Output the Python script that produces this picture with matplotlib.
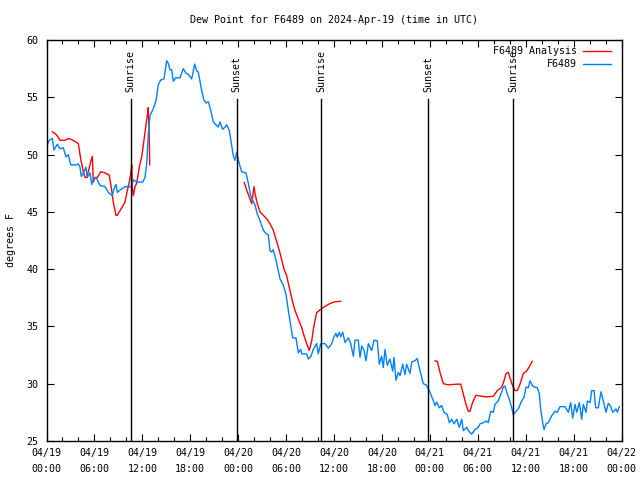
import matplotlib
matplotlib.use("Agg")
import matplotlib.pyplot as plt
from matplotlib.ticker import MultipleLocator

# Hours since 2024-04-19 00:00 UTC
obs_hours = [0.0, 0.35, 0.73, 0.94, 1.35, 1.69, 2.10, 2.44, 2.73, 3.03, 3.78, 3.98, 4.19, 4.36, 4.70, 4.95,
             5.11, 5.45, 5.66, 5.95, 6.29, 6.70, 7.33, 7.74, 8.24, 8.45, 8.70, 8.87, 9.20, 9.83, 10.67, 10.87,
             11.29, 12.05, 12.33, 12.55, 12.75, 12.96, 13.37, 13.71, 14.00, 14.30, 14.71, 15.05, 15.25, 15.46,
             15.68, 15.88, 16.18, 16.72, 17.13, 17.47, 17.76, 18.18, 18.56, 18.81, 19.01, 19.22, 19.43, 19.72,
             19.97, 20.26, 20.56, 20.89, 21.22, 21.51, 21.73, 22.06, 22.35, 22.56, 22.89, 23.19, 23.39, 23.60,
             23.82, 24.14, 24.44, 24.98, 25.27, 25.57, 25.82, 26.11, 26.40, 26.73, 27.15, 27.49, 27.77, 27.99,
             28.20, 28.40, 28.83, 29.24, 29.65, 29.99, 30.28, 30.49, 30.83, 31.24, 31.53, 31.83, 31.96, 32.58,
             32.78, 33.12, 33.41, 33.83, 34.03, 34.33, 34.87, 35.29, 35.71, 36.00, 36.25, 36.41, 36.66, 36.84,
             37.09, 37.38, 37.79, 38.09, 38.42, 38.63, 39.04, 39.26, 39.47, 39.76, 40.01, 40.30, 40.72, 41.01,
             41.42, 41.67, 41.97, 42.17, 42.39, 42.67, 43.01, 43.35, 43.51, 43.76, 44.05, 44.27, 44.60, 44.89,
             45.10, 45.52, 45.73, 46.14, 46.43, 46.68, 47.18, 47.52, 47.93, 48.36, 48.65, 48.86, 49.19, 49.49,
             49.77, 50.19, 50.44, 50.74, 51.03, 51.37, 51.69, 51.99, 52.19, 52.62, 52.82, 53.24, 53.66, 54.07,
             54.28, 54.70, 55.12, 55.32, 55.62, 55.95, 56.16, 56.57, 56.79, 57.20, 57.41, 57.70, 57.95, 58.25,
             58.45, 58.79, 59.08, 59.50, 59.79, 60.04, 60.33, 60.54, 60.88, 61.17, 61.46, 61.71, 61.88, 62.13,
             62.30, 62.55, 62.84, 63.26, 63.67, 63.96, 64.30, 64.93, 65.34, 65.64, 65.89, 66.18, 66.39, 66.72,
             67.02, 67.22, 67.56, 67.72, 68.06, 68.27, 68.56, 68.77, 69.10, 69.43, 69.72, 70.06, 70.35, 70.65,
             70.90, 71.31, 71.48, 71.73]
obs_dewpt = [50.7, 51.25, 51.4, 50.4, 50.9, 50.5, 50.6, 49.8, 50.0, 49.1, 49.1, 49.2, 48.9, 48.1, 48.5, 48.9,
             48.0, 48.4, 47.4, 48.0, 47.9, 47.3, 47.2, 46.7, 46.4, 47.0, 47.4, 46.7, 46.9, 47.2, 47.2, 47.8,
             47.6, 47.6, 48.0, 49.2, 51.8, 53.4, 54.0, 54.7, 56.1, 56.5, 56.6, 58.2, 57.96, 57.4,
             57.4, 56.4, 56.7, 56.7, 57.5, 57.1, 57.0, 56.6, 57.9, 57.3, 57.2, 56.4, 55.6, 54.75,
             54.5, 54.6, 53.9, 52.85, 52.6, 52.4, 52.85, 52.2, 52.4, 52.6, 52.1, 50.8, 49.9, 49.5,
             50.2, 49.2, 48.5, 48.4, 47.5, 46.4, 46.0, 45.6, 44.8, 44.25, 43.4, 43.1, 43.0, 41.6,
             41.5, 41.7, 40.5, 39.15, 38.6, 37.8, 36.4, 35.5, 34.0, 34.0, 32.7, 33.0, 32.6, 32.6,
             32.15, 32.4, 33.0, 33.5, 32.6, 33.5, 33.5, 33.1, 33.5, 34.1, 34.4, 34.05, 34.5, 34.1,
             34.5, 33.6, 34.0, 33.5, 32.4, 33.8, 33.8, 32.3, 33.3, 32.9, 32.0, 33.5, 32.9, 33.8,
             33.75, 31.7, 32.4, 31.4, 33.0, 31.6, 32.15, 31.1, 32.3, 30.3, 31.0, 30.7, 31.7, 30.8,
             31.7, 30.9, 31.9, 32.0, 32.2, 31.4, 30.0, 29.9, 29.4, 28.65, 28.1, 28.4, 27.9, 28.1,
             27.5, 27.3, 26.6, 26.9, 26.5, 26.9, 26.2, 26.9, 25.9, 26.2, 25.9, 25.6, 26.0, 26.2,
             26.5, 26.6, 26.75, 26.6, 27.6, 27.5, 28.2, 28.5, 28.9, 29.7, 29.8, 29.1, 28.65, 27.9,
             27.3, 27.6, 27.8, 28.5, 28.8, 29.7, 29.65, 30.25, 29.8, 29.7, 29.65, 29.1, 27.8, 26.6,
             26.0, 26.5, 26.6, 27.2, 27.6, 27.5, 28.0, 28.0, 27.5, 28.35, 27.0, 28.2, 27.5, 28.35,
             26.9, 28.2, 27.5, 28.5, 28.35, 29.4, 29.4, 27.9, 27.9, 29.3, 28.5, 27.5, 28.3, 28.0,
             27.5, 27.8, 27.5, 28.0]

# Analysis series, three separate segments
ana1_hours = [0.73, 0.94, 1.28, 1.69, 2.32, 2.73, 3.16, 3.69, 3.98, 4.28, 4.61, 4.82, 5.03, 5.23, 5.53, 5.74,
              5.86, 6.07, 6.36, 6.79, 7.33, 7.86, 8.16, 8.36, 8.70, 8.87, 9.20, 9.54, 9.83, 10.04, 10.37,
              10.54, 10.67, 10.74, 10.87, 11.08, 11.29, 11.62, 11.92, 12.12, 12.42, 12.67, 12.75, 12.87, 12.92]
ana1_dewpt = [51.98, 51.9, 51.7, 51.25, 51.25, 51.4, 51.3, 51.1, 50.96, 49.65, 48.5, 48.0, 48.0, 48.5, 49.35, 49.85,
              47.6, 48.0, 48.0, 48.5, 48.4, 48.2, 46.9, 45.85, 44.7, 44.7, 45.1, 45.5, 45.85, 46.6, 47.6,
              48.3, 49.1, 47.2, 46.4, 47.2, 47.5, 48.9, 49.8, 50.8, 52.4, 53.6, 54.1, 51.5, 49.1]
ana2_hours = [24.77, 25.07, 25.39, 25.70, 25.98, 26.11, 26.40, 26.73, 27.15, 27.57, 27.99, 28.40, 28.83, 29.24,
              29.74, 30.08, 30.40, 30.83, 31.12, 31.53, 31.96, 32.24, 32.58, 32.91, 33.21, 33.50, 33.83, 34.25,
              34.87, 35.50, 36.12, 36.84]
ana2_dewpt = [47.55, 46.9, 46.3, 45.7, 47.2, 46.6, 45.7, 45.0, 44.7, 44.4, 43.96, 43.4, 42.4, 41.4,
              40.0, 39.4, 38.4, 37.1, 36.4, 35.65, 34.9, 34.2, 33.5, 32.9, 33.75, 35.1, 36.2, 36.45,
              36.75, 37.0, 37.15, 37.2]
ana3_hours = [48.65, 48.94, 49.27, 49.69, 50.31, 51.37, 51.87, 52.19, 52.53, 52.82, 53.03, 53.37, 53.78, 54.50,
              55.12, 55.95, 56.45, 57.00, 57.29, 57.54, 57.83, 58.04, 58.38, 58.67, 58.95, 59.29, 59.71, 60.13,
              60.54, 60.83]
ana3_dewpt = [32.0, 31.95, 31.0, 30.0, 29.9, 29.96, 29.96, 29.1, 28.2, 27.6, 27.6, 28.4, 29.0, 28.9,
              28.85, 28.9, 29.4, 29.7, 30.25, 30.9, 31.0, 30.5, 29.8, 29.4, 29.4, 29.96, 30.9, 31.1,
              31.6, 31.95]

sun_hours = [10.56, 23.8, 34.4, 47.8, 58.4]
sun_labels = ["Sunrise", "Sunset", "Sunrise", "Sunset", "Sunrise"]

tick_hours = [0, 6, 12, 18, 24, 30, 36, 42, 48, 54, 60, 66, 72]
tick_labels = ["04/19\n00:00", "04/19\n06:00", "04/19\n12:00", "04/19\n18:00",
               "04/20\n00:00", "04/20\n06:00", "04/20\n12:00", "04/20\n18:00",
               "04/21\n00:00", "04/21\n06:00", "04/21\n12:00", "04/21\n18:00",
               "04/22\n00:00"]

plt.rcParams['font.family'] = ['DejaVu Sans Mono']
FS = 7.2
RED = '#ff0000'
BLUE = '#0080ff'

fig = plt.figure(figsize=(6.4, 4.8), dpi=100)
ax = fig.add_axes([46.5/640, 1-441/480, 575/640, 401/480])

ax.plot(ana1_hours, ana1_dewpt, color=RED, lw=1.0, label="F6489 Analysis")
ax.plot(ana2_hours, ana2_dewpt, color=RED, lw=1.0)
ax.plot(ana3_hours, ana3_dewpt, color=RED, lw=1.0)
ax.plot(obs_hours, obs_dewpt, color=BLUE, lw=1.0, label="F6489")

for h, lab in zip(sun_hours, sun_labels):
    ax.plot([h, h], [25, 54.85], color='black', lw=1.0)
    ax.text(h, 55.45, lab, rotation=90, ha='center', va='bottom', fontsize=FS)

ax.set_xlim(0, 72)
ax.set_ylim(25, 60)
ax.set_xticks(tick_hours)
ax.set_xticklabels(tick_labels, fontsize=FS, linespacing=1.75)
ax.xaxis.set_minor_locator(MultipleLocator(2))
ax.set_yticks(range(25, 61, 5))
ax.tick_params(axis='y', labelsize=FS, pad=6)
ax.tick_params(axis='x', pad=5)
ax.tick_params(which='both', direction='in', top=True, right=True, width=0.8)
ax.tick_params(which='major', length=5)
ax.tick_params(which='minor', length=3)
for s in ax.spines.values():
    s.set_linewidth(1.0)

ax.set_ylabel("degrees F", fontsize=FS, labelpad=7)
ax.set_title("Dew Point for F6489 on 2024-Apr-19 (time in UTC)", fontsize=FS, pad=12)

leg = ax.legend(loc='upper right', bbox_to_anchor=(0.981, 0.985), frameon=False, markerfirst=False,
                fontsize=FS, handlelength=2.8, borderaxespad=0.0, borderpad=0.0,
                labelspacing=0.3, handletextpad=0.6)

fig.savefig("out.png", dpi=100)
